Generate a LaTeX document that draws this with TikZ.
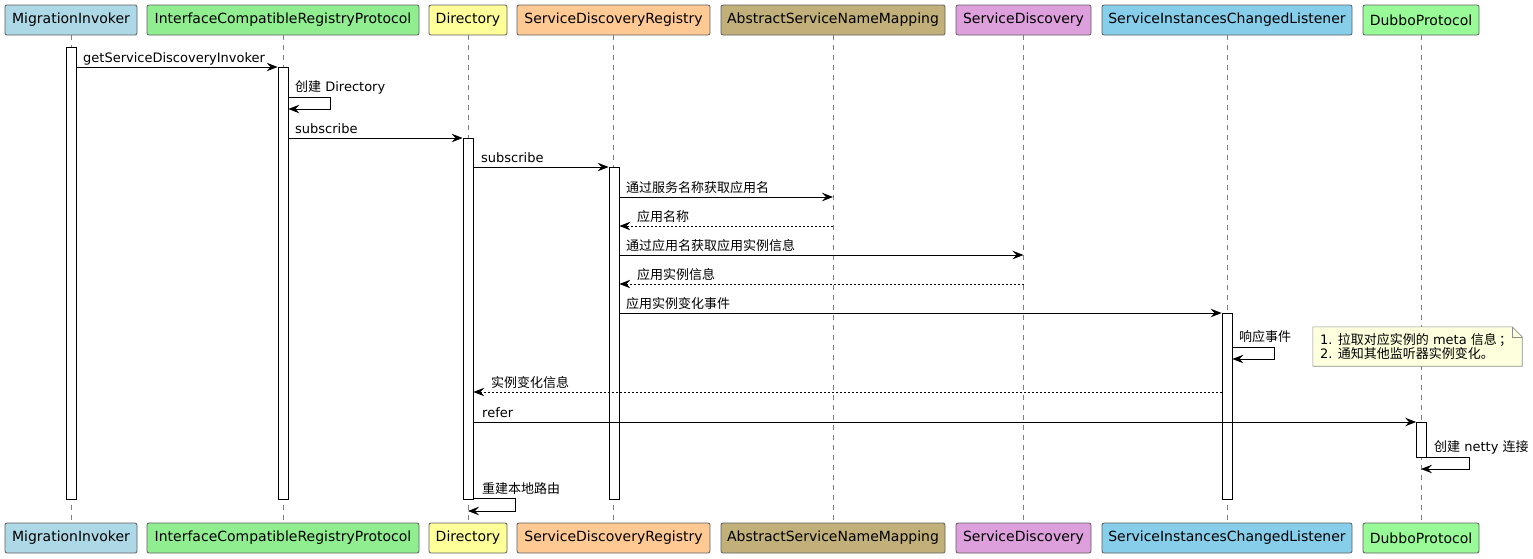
\documentclass[tikz,border=0pt]{standalone}
\usepackage{fontspec}
\setmainfont{DejaVu Sans}
\newfontfamily\cjk{Noto Sans CJK SC}
\newcommand\zh[1]{{\cjk #1}}
\usetikzlibrary{arrows.meta}
\definecolor{cMI}{HTML}{ADD8E6}
\definecolor{cICRP}{HTML}{90EE90}
\definecolor{cDir}{HTML}{FFFF99}
\definecolor{cSDR}{HTML}{FFC993}
\definecolor{cASNM}{HTML}{C2B07A}
\definecolor{cSD}{HTML}{DDA0DD}
\definecolor{cSICL}{HTML}{87CEEB}
\definecolor{cDP}{HTML}{98FB98}
\definecolor{partborder}{HTML}{5E5E5E}
\definecolor{lifegray}{HTML}{808080}
\definecolor{notefill}{HTML}{FEFFDD}
\definecolor{noteborder}{HTML}{8E8E8E}
\tikzset{
  part/.style={draw=partborder, line width=0.8pt, rounded corners=2pt, minimum height=30pt, inner sep=0pt, font=\fontsize{14}{16}\selectfont},
  lifeline/.style={draw=lifegray, line width=0.6pt, dash pattern=on 5pt off 5pt},
  actbar/.style={draw=black, fill=white, line width=0.8pt, minimum width=10pt, inner sep=0pt, anchor=north},
  msg/.style={draw=black, line width=0.8pt, -{Stealth[length=11pt,width=8.5pt,inset=4pt]}},
  ret/.style={msg, dash pattern=on 2pt off 2pt},
  lbl/.style={font=\fontsize{13}{15}\selectfont, inner sep=0pt, anchor=base west},
  notebox/.style={draw=noteborder, fill=notefill, line width=0.6pt},
}
\begin{document}
\begin{tikzpicture}[x=1pt,y=-1pt]
\useasboundingbox (0,0) rectangle (1533,558);
% top participants
\node[part, fill=cMI, minimum width=132pt] (mi) at (71,20) {MigrationInvoker};
\node[part, fill=cICRP, minimum width=272pt] (icrp) at (283,20) {InterfaceCompatibleRegistryProtocol};
\node[part, fill=cDir, minimum width=78pt] (dir) at (468,20) {Directory};
\node[part, fill=cSDR, minimum width=193pt] (sdr) at (613.5,20) {ServiceDiscoveryRegistry};
\node[part, fill=cASNM, minimum width=224pt] (asnm) at (833,20) {AbstractServiceNameMapping};
\node[part, fill=cSD, minimum width=135pt] (sd) at (1023.5,20) {ServiceDiscovery};
\node[part, fill=cSICL, minimum width=250pt] (sicl) at (1227,20) {ServiceInstancesChangedListener};
\node[part, fill=cDP, minimum width=116pt] (dp) at (1421,20) {DubboProtocol};
% bottom participants
\node[part, fill=cMI, minimum width=132pt] (mib) at (71,538) {MigrationInvoker};
\node[part, fill=cICRP, minimum width=272pt] (icrpb) at (283,538) {InterfaceCompatibleRegistryProtocol};
\node[part, fill=cDir, minimum width=78pt] (dirb) at (468,538) {Directory};
\node[part, fill=cSDR, minimum width=193pt] (sdrb) at (613.5,538) {ServiceDiscoveryRegistry};
\node[part, fill=cASNM, minimum width=224pt] (asnmb) at (833,538) {AbstractServiceNameMapping};
\node[part, fill=cSD, minimum width=135pt] (sdb) at (1023.5,538) {ServiceDiscovery};
\node[part, fill=cSICL, minimum width=250pt] (siclb) at (1227,538) {ServiceInstancesChangedListener};
\node[part, fill=cDP, minimum width=116pt] (dpb) at (1421,538) {DubboProtocol};
% lifelines
\foreach \p in {mi,icrp,dir,sdr,asnm,sd,sicl,dp}
  \draw[lifeline] (\p.south) -- (\p b.north);
% activation bars
\node[actbar, minimum height=452pt] (amI) at (71,47) {};
\node[actbar, minimum height=432pt] (aICRP) at (283,67) {};
\node[actbar, minimum height=361pt] (aDir) at (468,138) {};
\node[actbar, minimum height=332pt] (aSDR) at (614,167) {};
\node[actbar, minimum height=186pt] (aSICL) at (1227,313) {};
\node[actbar, minimum height=35pt] (aDP) at (1421.5,422) {};
% y levels
\coordinate (y1) at (0,67);
\coordinate (y2a) at (0,97);
\coordinate (y2b) at (0,109);
\coordinate (y3) at (0,138);
\coordinate (y4) at (0,167);
\coordinate (y5) at (0,197);
\coordinate (y6) at (0,226);
\coordinate (y7) at (0,255);
\coordinate (y8) at (0,284);
\coordinate (y9) at (0,313);
\coordinate (y10a) at (0,347);
\coordinate (y10b) at (0,359);
\coordinate (y11) at (0,392);
\coordinate (y12) at (0,422);
\coordinate (y13a) at (0,457);
\coordinate (y13b) at (0,469);
\coordinate (y14a) at (0,498);
\coordinate (y14b) at (0,511);
% messages
\draw[msg] (amI.east |- y1) -- (aICRP.west |- y1);
\node[lbl] (l1) at (83,62) {getServiceDiscoveryInvoker};
\draw[msg] (aICRP.east |- y2a) -- ++(42,0) |- (aICRP.east |- y2b);
\node[lbl] (l2) at (295,91) {\zh{创建} Directory};
\draw[msg] (aICRP.east |- y3) -- (aDir.west |- y3);
\node[lbl] (l3) at (295,133) {subscribe};
\draw[msg] (aDir.east |- y4) -- (aSDR.west |- y4);
\node[lbl] (l4) at (481,162) {subscribe};
\draw[msg] (aSDR.east |- y5) -- (asnm.south |- y5);
\node[lbl] (l5) at (626,192) {\zh{通过服务名称获取应用名}};
\draw[ret] (asnm.south |- y6) -- (aSDR.east |- y6);
\node[lbl] (l6) at (637,221) {\zh{应用名称}};
\draw[msg] (aSDR.east |- y7) -- (sd.south |- y7);
\node[lbl] (l7) at (626,250) {\zh{通过应用名获取应用实例信息}};
\draw[ret] (sd.south |- y8) -- (aSDR.east |- y8);
\node[lbl] (l8) at (637,279) {\zh{应用实例信息}};
\draw[msg] (aSDR.east |- y9) -- (aSICL.west |- y9);
\node[lbl] (l9) at (626,308) {\zh{应用实例变化事件}};
\draw[msg] (aSICL.east |- y10a) -- ++(42,0) |- (aSICL.east |- y10b);
\node[lbl] (l10) at (1239,341) {\zh{响应事件}};
\draw[ret] (aSICL.west |- y11) -- (aDir.east |- y11);
\node[lbl] (l11) at (491,387) {\zh{实例变化信息}};
\draw[msg] (aDir.east |- y12) -- (aDP.west |- y12);
\node[lbl] (l12) at (482,417) {refer};
\draw[msg] (aDP.east |- y13a) -- ++(42,0) |- (dp.south |- y13b);
\node[lbl] (l13) at (1434,451) {\zh{创建} netty \zh{连接}};
\draw[msg] (aDir.east |- y14a) -- ++(42,0) |- (dir.south |- y14b);
\node[lbl] (l14) at (482,493) {\zh{重建本地路由}};
% note
\node[minimum width=209pt, minimum height=39pt, inner sep=0pt] (note) at (1417.5,346.5) {};
\draw[notebox] (note.north west) -- ([xshift=-10pt]note.north east) -- ([yshift=-10pt]note.north east) -- (note.south east) -- (note.south west) -- cycle;
\draw[notebox, fill=none] ([xshift=-10pt]note.north east) -- ([xshift=-10pt,yshift=-10pt]note.north east) -- ([yshift=-10pt]note.north east);
\node[font=\fontsize{13}{14}\selectfont, align=left, anchor=west, inner sep=0pt] (notetext) at ([xshift=7pt]note.west) {1. \zh{拉取对应实例的} meta \zh{信息}\,\zh{；}\\2. \zh{通知其他监听器实例变化。}};
\end{tikzpicture}
\end{document}
